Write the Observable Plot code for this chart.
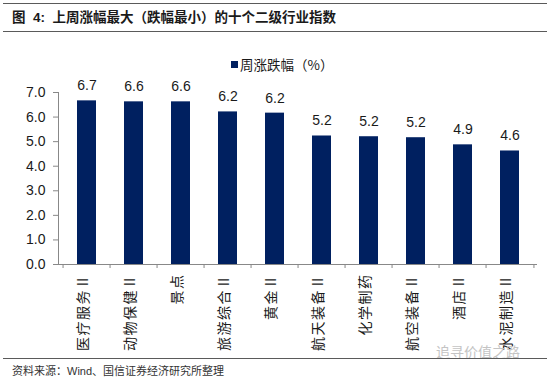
<!DOCTYPE html>
<html>
<head>
<meta charset="utf-8">
<script src="https://cdn.jsdelivr.net/npm/d3@7"></script>
<script src="https://cdn.jsdelivr.net/npm/@observablehq/plot@0.6"></script>
<style>
  html, body { margin: 0; padding: 0; background: #fff; }
  #wrap { position: relative; width: 550px; height: 380px; background: #fff; overflow: hidden;
          font-family: "Liberation Sans", Arial, "Noto Sans CJK SC", sans-serif; color: #1a1a1a; }
  .rule { position: absolute; left: 3px; width: 544px; height: 1px; background: #5a5a5a; }
  #title { position: absolute; left: 12px; top: 6px; font-size: 13.5px; font-weight: bold;
           font-family: "Liberation Sans", Arial, "Noto Sans CJK SC", sans-serif; white-space: nowrap; }
  #legend { position: absolute; left: 231px; top: 54px; font-size: 13.5px; white-space: nowrap;
            font-family: "Noto Sans CJK SC", sans-serif; display: flex; align-items: center; }
  #legend .sw { width: 7px; height: 7px; background: #002060; margin-right: 2px; }
  #chart { position: absolute; left: 0; top: 40px; }
  #chart g[aria-label="text"]:last-of-type text { letter-spacing: 1.5px; }
  #source { position: absolute; left: 12px; top: 362px; font-size: 11px; color: #333; white-space: nowrap;
            font-family: "Liberation Sans", Arial, "Noto Sans CJK SC", sans-serif; }
  #wm { position: absolute; left: 436px; top: 341px; font-size: 14px; color: #c4c4c4; white-space: nowrap;
        font-family: "Noto Sans CJK SC", sans-serif; }
</style>
</head>
<body>
<div id="wrap">
  <div class="rule" style="top:3px"></div>
  <div id="title">图&nbsp; 4:&nbsp; 上周涨幅最大（跌幅最小）的十个二级行业指数</div>
  <div class="rule" style="top:31px"></div>
  <div id="legend"><span class="sw"></span><span>周涨跌幅（%）</span></div>
  <div id="chart"></div>
  <div id="wm">追寻价值之路</div>
  <div class="rule" style="top:358px"></div>
  <div id="source">资料来源：Wind、国信证券经济研究所整理</div>
</div>
<script>
const categories = ["医疗服务Ⅱ", "动物保健Ⅱ", "景点", "旅游综合Ⅱ", "黄金Ⅱ", "航天装备Ⅱ", "化学制药", "航空装备Ⅱ", "酒店Ⅱ", "水泥制造Ⅱ"];
const values = [6.66, 6.62, 6.62, 6.21, 6.16, 5.23, 5.2, 5.16, 4.87, 4.62];
const yTicks = [0, 1, 2, 3, 4, 5, 6, 7];

const data = categories.map((c, i) => ({cat: c, val: values[i]}));
const fmt = d3.format(".1f");
const W = 550, ML = 58, MR = 13;
const step = (W - ML - MR) / categories.length;

const chart = Plot.plot({
  width: W,
  height: 318,
  marginLeft: ML,
  marginRight: MR,
  marginTop: 52,
  marginBottom: 94,
  style: {fontFamily: "'Liberation Sans', Arial, sans-serif", fontSize: "14px", color: "#1a1a1a", background: "transparent", overflow: "visible"},
  x: {domain: categories, paddingInner: 0.6, paddingOuter: 0.3, axis: null},
  y: {domain: [0, 7], axis: null},
  marks: [
    Plot.barY(data, {x: "cat", y: "val", fill: "#002060"}),
    Plot.axisY({ticks: yTicks, tickFormat: fmt, tickSize: 5, tickPadding: 8, stroke: "#888", fill: "#1a1a1a", fontSize: 14, label: null}),
    Plot.frame({anchor: "left", stroke: "#888"}),
    Plot.ruleY([0], {stroke: "#888"}),
    Plot.ruleX(data, {x: "cat", y1: 0, y2: 0, dx: -step / 2, insetBottom: -4, stroke: "#888"}),
    Plot.ruleX(data.slice(-1), {x: "cat", y1: 0, y2: 0, dx: step / 2, insetBottom: -4, stroke: "#888"}),
    Plot.text(data, {x: "cat", y: "val", text: d => fmt(d.val), dy: -15, lineAnchor: "middle", fontSize: 14, fill: "#1a1a1a"}),
    Plot.text(data, {x: "cat", y: 0, text: "cat", rotate: -90, textAnchor: "end", lineAnchor: "middle", dy: 9, dx: -3,
      fontFamily: "'Noto Sans CJK SC', sans-serif", fontSize: 14, fill: "#1a1a1a"})
  ]
});
document.getElementById("chart").appendChild(chart);
</script>
</body>
</html>
